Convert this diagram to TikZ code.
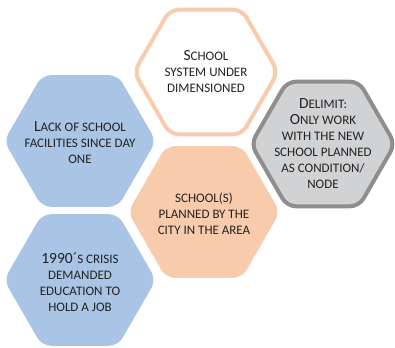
\documentclass[tikz,border=0pt]{standalone}
\usepackage{fontspec}
\setmainfont{Carlito}
\usepackage{xcolor}
\usepackage{tikz}
\usetikzlibrary{shapes.geometric}
\definecolor{cellblue}{HTML}{A9C4E4}
\definecolor{cellpeach}{HTML}{F8CBAD}
\definecolor{cellgray}{HTML}{D1D2D4}
\definecolor{rimgray}{HTML}{8E8E8E}
\definecolor{inkgray}{HTML}{222222}
% Carlito has no small caps, so fake them
\newcommand{\smc}[1]{{\fontsize{13}{16}\selectfont #1}}

\begin{document}
\begin{tikzpicture}[
    x=1pt, y=-1pt,
    hexcell/.style={regular polygon, regular polygon sides=6, minimum size=152pt, inner sep=0pt, rounded corners=9pt},
    celltext/.style={align=center, font=\fontsize{15.5}{16}\selectfont, text=inkgray, inner sep=0pt}
]
\useasboundingbox (0,0) rectangle (395,347);

\node[hexcell, fill=cellblue] (lack) at (80,141) {};
\node[hexcell, fill=cellblue] (crisis) at (80,280) {};
\node[hexcell, draw=cellpeach, line width=4pt, fill=white, minimum size=144pt] (sys) at (206,72) {};
\node[hexcell, fill=cellpeach] (plan) at (204,212) {};
\node[hexcell, draw=rimgray, line width=4pt, fill=cellgray, minimum size=144pt] (delim) at (323,144) {};

\node[celltext] at (sys) {S\smc{CHOOL}\\\smc{SYSTEM UNDER}\\\smc{DIMENSIONED}};
\node[celltext] at (lack.center) [yshift=-2pt] {L\smc{ACK OF SCHOOL}\\\smc{FACILITIES SINCE DAY}\\\smc{ONE}};
\node[celltext] at (delim) {D\smc{ELIMIT:}\\O\smc{NLY WORK}\\\smc{WITH THE NEW}\\\smc{SCHOOL PLANNED}\\\smc{AS CONDITION/}\\\smc{NODE}};
\node[celltext] at (plan.center) [yshift=-2pt] {\smc{SCHOOL(S)}\\\smc{PLANNED BY THE}\\\smc{CITY IN THE AREA}};
\node[celltext] at (crisis.center) [yshift=-2pt] {1990´\smc{S CRISIS}\\\smc{DEMANDED}\\\smc{EDUCATION TO}\\\smc{HOLD A JOB}};
\end{tikzpicture}
\end{document}
